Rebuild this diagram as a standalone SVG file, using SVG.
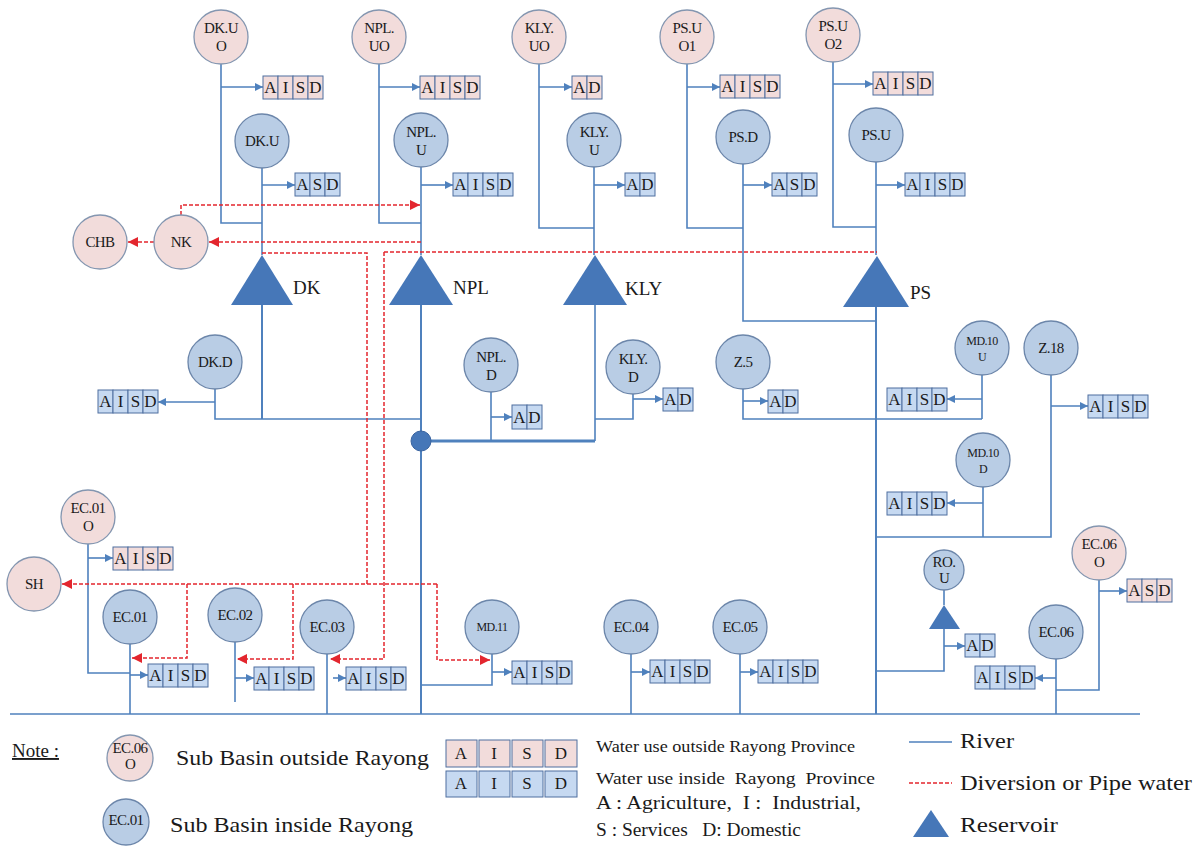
<svg xmlns="http://www.w3.org/2000/svg" width="1204" height="846" viewBox="0 0 1204 846" font-family="Liberation Serif, Times New Roman, serif">
<style>
.t{fill:#1a1a1a}
.ct{fill:#1a1a1a;font-size:15px;text-anchor:middle;letter-spacing:-0.6px}
.sm{font-size:12px}
.pk{fill:#f2dcdb;stroke:#8496b0;stroke-width:1.3}
.bl{fill:#b9cde5;stroke:#6c86aa;stroke-width:1.3}
.bx rect{stroke:#4f6f9f;stroke-width:1}
.p rect{fill:#f2dcdb}
.b rect{fill:#c6d9f1}
.bx text{font-size:17px;text-anchor:middle;fill:#1a1a1a}
.rv{stroke:#4f81bd;stroke-width:1.6;fill:none}
.tr{stroke:#4f81bd;stroke-width:2;fill:none}
.ar{stroke:#4f81bd;stroke-width:1.6;fill:none;marker-end:url(#ab)}
.dv{stroke:#e3262e;stroke-width:1.5;stroke-dasharray:4 2;fill:none}
.da{marker-end:url(#ar)}
.res{fill:#4677b8}
.lb{font-size:19px}
</style>
<defs>
<marker id="ab" viewBox="0 0 10 10" refX="10" refY="5" markerWidth="9" markerHeight="8" markerUnits="userSpaceOnUse" orient="auto"><path d="M0,0 L10,5 L0,10 z" fill="#4f81bd"/></marker>
<marker id="ar" viewBox="0 0 10 10" refX="10" refY="5" markerWidth="11" markerHeight="10" markerUnits="userSpaceOnUse" orient="auto"><path d="M0,0 L10,5 L0,10 z" fill="#e3262e"/></marker>
</defs>
<rect width="1204" height="846" fill="#ffffff"/>

<g id="connectors">
<path class="rv" d="M10,714 H1140"/>
<path class="rv" d="M221,64 V223 H262"/>
<path class="rv" d="M379,64 V223 H421"/>
<path class="rv" d="M539,64 V228 H594"/>
<path class="rv" d="M687,64 V228 H743"/>
<path class="rv" d="M833,62 V227 H876"/>
<path class="rv" d="M262,168 V255"/>
<path class="tr" d="M262,305 V419"/>
<path class="rv" d="M421,167 V255"/>
<path class="tr" d="M421,305 V714"/>
<path class="rv" d="M594,167 V255"/>
<path class="rv" d="M595,305 V441"/>
<path class="rv" d="M743,164 V321 H876"/>
<path class="rv" d="M876,162 V255"/>
<path class="tr" d="M876,307 V714"/>
<path class="rv" d="M215,389 V419 H421"/>
<path stroke="#4f81bd" stroke-width="3" fill="none" d="M421,441 H595"/>
<path class="rv" d="M491,392 V441"/>
<path class="rv" d="M633,394 V419 H595"/>
<path class="rv" d="M743,389 V419 H982"/>
<path class="rv" d="M982,375 V419"/>
<path class="rv" d="M1051,375 V537 H876"/>
<path class="rv" d="M983,487 V537"/>
<path class="rv" d="M944,590 V605"/>
<path class="rv" d="M944,629 V671 H876"/>
<path class="rv" d="M1099,580 V690 H1056"/>
<path class="rv" d="M1056,659 V714"/>
<path class="rv" d="M631,654 V714"/>
<path class="rv" d="M740,654 V714"/>
<path class="rv" d="M88,544 V673 H130"/>
<path class="rv" d="M130,644 V714"/>
<path class="rv" d="M235,642 V702"/>
<path class="rv" d="M327,654 V714"/>
<path class="rv" d="M492,654 V685 H421"/>
<path class="ar" d="M221,87 H263"/>
<path class="ar" d="M379,87 H420"/>
<path class="ar" d="M539,87 H572"/>
<path class="ar" d="M687,87 H720"/>
<path class="ar" d="M833,84 H873"/>
<path class="ar" d="M262,185 H295"/>
<path class="ar" d="M421,185 H453"/>
<path class="ar" d="M594,185 H625"/>
<path class="ar" d="M743,185 H772"/>
<path class="ar" d="M876,185 H905"/>
<path class="ar" d="M215,402 H158"/>
<path class="ar" d="M491,417 H512"/>
<path class="ar" d="M633,399 H663"/>
<path class="ar" d="M743,401 H768"/>
<path class="ar" d="M982,399 H947"/>
<path class="ar" d="M1051,406 H1088"/>
<path class="ar" d="M983,503 H947"/>
<path class="ar" d="M88,558 H113"/>
<path class="ar" d="M130,675 H148"/>
<path class="ar" d="M235,678 H254"/>
<path class="ar" d="M333,678 H346"/>
<path class="ar" d="M492,672 H512"/>
<path class="ar" d="M631,672 H650"/>
<path class="ar" d="M740,672 H758"/>
<path class="ar" d="M944,646 H965"/>
<path class="ar" d="M1099,591 H1127"/>
<path class="ar" d="M1056,678 H1035"/>
<path class="dv da" d="M181,215 V205 H420"/>
<path class="dv da" d="M421,242 H209"/>
<path class="dv da" d="M154,242 H128"/>
<path class="dv" d="M262,253 H367 V584"/>
<path class="dv" d="M384,252 H877"/>
<path class="dv da" d="M384,252 V659 H330"/>
<path class="dv da" d="M437,584 H62"/>
<path class="dv da" d="M187,584 V658 H132"/>
<path class="dv da" d="M293,584 V659 H237"/>
<path class="dv da" d="M437,584 V660 H490"/>
<circle cx="421" cy="441" r="10" fill="#4677b8" stroke="#3a64a0" stroke-width="1"/>
</g>

<g id="DK-res"><path class="res" d="M262,255 L231,305 L293,305 Z"/><text class="t lb" x="293" y="294">DK</text></g>
<g id="NPL-res"><path class="res" d="M421,255 L389,305 L453,305 Z"/><text class="t lb" x="453" y="294">NPL</text></g>
<g id="KLY-res"><path class="res" d="M595,255 L563,305 L627,305 Z"/><text class="t lb" x="625" y="295">KLY</text></g>
<g id="PS-res"><path class="res" d="M877,256 L843,307 L909,307 Z"/><text class="t lb" x="910" y="299">PS</text></g>
<g id="RO-res"><path class="res" d="M944,605 L929,629 L960,629 Z"/></g>

<g id="DK-UO"><circle class="pk" cx="221" cy="37" r="27"/><text class="ct" x="221" y="33">DK.U</text><text class="ct" x="221" y="51">O</text>
<g class="bx p" transform="translate(263,76)"><rect width="15" height="23"/><rect x="15" width="15" height="23"/><rect x="30" width="15" height="23"/><rect x="45" width="15" height="23"/><text x="7.5" y="17">A</text><text x="22.5" y="17">I</text><text x="37.5" y="17">S</text><text x="52.5" y="17">D</text></g></g>
<g id="NPL-UO"><circle class="pk" cx="379" cy="37" r="27"/><text class="ct" x="379" y="33">NPL.</text><text class="ct" x="379" y="51">UO</text>
<g class="bx p" transform="translate(420,76)"><rect width="15" height="23"/><rect x="15" width="15" height="23"/><rect x="30" width="15" height="23"/><rect x="45" width="15" height="23"/><text x="7.5" y="17">A</text><text x="22.5" y="17">I</text><text x="37.5" y="17">S</text><text x="52.5" y="17">D</text></g></g>
<g id="KLY-UO"><circle class="pk" cx="539" cy="37" r="27"/><text class="ct" x="539" y="33">KLY.</text><text class="ct" x="539" y="51">UO</text>
<g class="bx p" transform="translate(572,76)"><rect width="15" height="23"/><rect x="15" width="15" height="23"/><text x="7.5" y="17">A</text><text x="22.5" y="17">D</text></g></g>
<g id="PS-UO1"><circle class="pk" cx="687" cy="37" r="27"/><text class="ct" x="687" y="33">PS.U</text><text class="ct" x="687" y="51">O1</text>
<g class="bx p" transform="translate(720,75)"><rect width="15" height="23"/><rect x="15" width="15" height="23"/><rect x="30" width="15" height="23"/><rect x="45" width="15" height="23"/><text x="7.5" y="17">A</text><text x="22.5" y="17">I</text><text x="37.5" y="17">S</text><text x="52.5" y="17">D</text></g></g>
<g id="PS-UO2"><circle class="pk" cx="833" cy="35" r="27"/><text class="ct" x="833" y="31">PS.U</text><text class="ct" x="833" y="49">O2</text>
<g class="bx p" transform="translate(873,72)"><rect width="15" height="23"/><rect x="15" width="15" height="23"/><rect x="30" width="15" height="23"/><rect x="45" width="15" height="23"/><text x="7.5" y="17">A</text><text x="22.5" y="17">I</text><text x="37.5" y="17">S</text><text x="52.5" y="17">D</text></g></g>

<g id="DK-U"><circle class="bl" cx="262" cy="141" r="27"/><text class="ct" x="262" y="146">DK.U</text>
<g class="bx b" transform="translate(295,173)"><rect width="15" height="23"/><rect x="15" width="15" height="23"/><rect x="30" width="15" height="23"/><text x="7.5" y="17">A</text><text x="22.5" y="17">S</text><text x="37.5" y="17">D</text></g></g>
<g id="NPL-U"><circle class="bl" cx="421" cy="140" r="27"/><text class="ct" x="421" y="137">NPL.</text><text class="ct" x="421" y="155">U</text>
<g class="bx b" transform="translate(453,173)"><rect width="15" height="23"/><rect x="15" width="15" height="23"/><rect x="30" width="15" height="23"/><rect x="45" width="15" height="23"/><text x="7.5" y="17">A</text><text x="22.5" y="17">I</text><text x="37.5" y="17">S</text><text x="52.5" y="17">D</text></g></g>
<g id="KLY-U"><circle class="bl" cx="594" cy="140" r="27"/><text class="ct" x="594" y="137">KLY.</text><text class="ct" x="594" y="155">U</text>
<g class="bx b" transform="translate(625,173)"><rect width="15" height="23"/><rect x="15" width="15" height="23"/><text x="7.5" y="17">A</text><text x="22.5" y="17">D</text></g></g>
<g id="PS-D"><circle class="bl" cx="743" cy="137" r="27"/><text class="ct" x="743" y="142">PS.D</text>
<g class="bx b" transform="translate(772,173)"><rect width="15" height="23"/><rect x="15" width="15" height="23"/><rect x="30" width="15" height="23"/><text x="7.5" y="17">A</text><text x="22.5" y="17">S</text><text x="37.5" y="17">D</text></g></g>
<g id="PS-U"><circle class="bl" cx="876" cy="135" r="27"/><text class="ct" x="876" y="140">PS.U</text>
<g class="bx b" transform="translate(905,173)"><rect width="15" height="23"/><rect x="15" width="15" height="23"/><rect x="30" width="15" height="23"/><rect x="45" width="15" height="23"/><text x="7.5" y="17">A</text><text x="22.5" y="17">I</text><text x="37.5" y="17">S</text><text x="52.5" y="17">D</text></g></g>

<g id="NK"><circle class="pk" cx="181" cy="242" r="27"/><text class="ct" x="181" y="247">NK</text></g>
<g id="CHB"><circle class="pk" cx="100" cy="242" r="27"/><text class="ct" x="100" y="247">CHB</text></g>
<g id="SH"><circle class="pk" cx="34" cy="584" r="27"/><text class="ct" x="34" y="589">SH</text></g>

<g id="DK-D"><circle class="bl" cx="215" cy="362" r="27"/><text class="ct" x="215" y="367">DK.D</text>
<g class="bx b" transform="translate(98,390)"><rect width="15" height="23"/><rect x="15" width="15" height="23"/><rect x="30" width="15" height="23"/><rect x="45" width="15" height="23"/><text x="7.5" y="17">A</text><text x="22.5" y="17">I</text><text x="37.5" y="17">S</text><text x="52.5" y="17">D</text></g></g>
<g id="NPL-D"><circle class="bl" cx="491" cy="365" r="27"/><text class="ct" x="491" y="362">NPL.</text><text class="ct" x="491" y="380">D</text>
<g class="bx b" transform="translate(512,405)"><rect width="15" height="24"/><rect x="15" width="15" height="24"/><text x="7.5" y="18">A</text><text x="22.5" y="18">D</text></g></g>
<g id="KLY-D"><circle class="bl" cx="633" cy="367" r="27"/><text class="ct" x="633" y="364">KLY.</text><text class="ct" x="633" y="382">D</text>
<g class="bx b" transform="translate(663,388)"><rect width="15" height="23"/><rect x="15" width="15" height="23"/><text x="7.5" y="17">A</text><text x="22.5" y="17">D</text></g></g>
<g id="Z5"><circle class="bl" cx="743" cy="362" r="27"/><text class="ct" x="743" y="367">Z.5</text>
<g class="bx b" transform="translate(768,390)"><rect width="15" height="23"/><rect x="15" width="15" height="23"/><text x="7.5" y="17">A</text><text x="22.5" y="17">D</text></g></g>
<g id="MD10U"><circle class="bl" cx="982" cy="348" r="27"/><text class="ct sm" x="982" y="345">MD.10</text><text class="ct sm" x="982" y="361">U</text>
<g class="bx b" transform="translate(887,388)"><rect width="15" height="23"/><rect x="15" width="15" height="23"/><rect x="30" width="15" height="23"/><rect x="45" width="15" height="23"/><text x="7.5" y="17">A</text><text x="22.5" y="17">I</text><text x="37.5" y="17">S</text><text x="52.5" y="17">D</text></g></g>
<g id="Z18"><circle class="bl" cx="1051" cy="348" r="27"/><text class="ct" x="1051" y="353">Z.18</text>
<g class="bx b" transform="translate(1088,395)"><rect width="15" height="23"/><rect x="15" width="15" height="23"/><rect x="30" width="15" height="23"/><rect x="45" width="15" height="23"/><text x="7.5" y="17">A</text><text x="22.5" y="17">I</text><text x="37.5" y="17">S</text><text x="52.5" y="17">D</text></g></g>
<g id="MD10D"><circle class="bl" cx="983" cy="460" r="27"/><text class="ct sm" x="983" y="457">MD.10</text><text class="ct sm" x="983" y="473">D</text>
<g class="bx b" transform="translate(887,492)"><rect width="15" height="23"/><rect x="15" width="15" height="23"/><rect x="30" width="15" height="23"/><rect x="45" width="15" height="23"/><text x="7.5" y="17">A</text><text x="22.5" y="17">I</text><text x="37.5" y="17">S</text><text x="52.5" y="17">D</text></g></g>

<g id="EC01O"><circle class="pk" cx="88" cy="517" r="27"/><text class="ct" x="88" y="513">EC.01</text><text class="ct" x="88" y="531">O</text>
<g class="bx p" transform="translate(113,547)"><rect width="15" height="23"/><rect x="15" width="15" height="23"/><rect x="30" width="15" height="23"/><rect x="45" width="15" height="23"/><text x="7.5" y="17">A</text><text x="22.5" y="17">I</text><text x="37.5" y="17">S</text><text x="52.5" y="17">D</text></g></g>
<g id="EC01"><circle class="bl" cx="130" cy="617" r="27"/><text class="ct" x="130" y="622">EC.01</text>
<g class="bx b" transform="translate(148,664)"><rect width="15" height="23"/><rect x="15" width="15" height="23"/><rect x="30" width="15" height="23"/><rect x="45" width="15" height="23"/><text x="7.5" y="17">A</text><text x="22.5" y="17">I</text><text x="37.5" y="17">S</text><text x="52.5" y="17">D</text></g></g>
<g id="EC02"><circle class="bl" cx="235" cy="615" r="27"/><text class="ct" x="235" y="620">EC.02</text>
<g class="bx b" transform="translate(254,667)"><rect width="15" height="23"/><rect x="15" width="15" height="23"/><rect x="30" width="15" height="23"/><rect x="45" width="15" height="23"/><text x="7.5" y="17">A</text><text x="22.5" y="17">I</text><text x="37.5" y="17">S</text><text x="52.5" y="17">D</text></g></g>
<g id="EC03"><circle class="bl" cx="327" cy="627" r="27"/><text class="ct" x="327" y="632">EC.03</text>
<g class="bx b" transform="translate(346,667)"><rect width="15" height="23"/><rect x="15" width="15" height="23"/><rect x="30" width="15" height="23"/><rect x="45" width="15" height="23"/><text x="7.5" y="17">A</text><text x="22.5" y="17">I</text><text x="37.5" y="17">S</text><text x="52.5" y="17">D</text></g></g>
<g id="MD11"><circle class="bl" cx="492" cy="627" r="27"/><text class="ct sm" x="492" y="631">MD.11</text>
<g class="bx b" transform="translate(512,661)"><rect width="15" height="23"/><rect x="15" width="15" height="23"/><rect x="30" width="15" height="23"/><rect x="45" width="15" height="23"/><text x="7.5" y="17">A</text><text x="22.5" y="17">I</text><text x="37.5" y="17">S</text><text x="52.5" y="17">D</text></g></g>
<g id="EC04"><circle class="bl" cx="631" cy="627" r="27"/><text class="ct" x="631" y="632">EC.04</text>
<g class="bx b" transform="translate(650,660)"><rect width="15" height="23"/><rect x="15" width="15" height="23"/><rect x="30" width="15" height="23"/><rect x="45" width="15" height="23"/><text x="7.5" y="17">A</text><text x="22.5" y="17">I</text><text x="37.5" y="17">S</text><text x="52.5" y="17">D</text></g></g>
<g id="EC05"><circle class="bl" cx="740" cy="627" r="27"/><text class="ct" x="740" y="632">EC.05</text>
<g class="bx b" transform="translate(758,660)"><rect width="15" height="23"/><rect x="15" width="15" height="23"/><rect x="30" width="15" height="23"/><rect x="45" width="15" height="23"/><text x="7.5" y="17">A</text><text x="22.5" y="17">I</text><text x="37.5" y="17">S</text><text x="52.5" y="17">D</text></g></g>
<g id="ROU"><circle class="bl" cx="944" cy="570" r="20"/><text class="ct" x="944" y="567">RO.</text><text class="ct" x="944" y="583">U</text>
<g class="bx b" transform="translate(965,634)"><rect width="15" height="23"/><rect x="15" width="15" height="23"/><text x="7.5" y="17">A</text><text x="22.5" y="17">D</text></g></g>
<g id="EC06O"><circle class="pk" cx="1099" cy="553" r="27"/><text class="ct" x="1099" y="549">EC.06</text><text class="ct" x="1099" y="567">O</text>
<g class="bx p" transform="translate(1127,579)"><rect width="15" height="23"/><rect x="15" width="15" height="23"/><rect x="30" width="15" height="23"/><text x="7.5" y="17">A</text><text x="22.5" y="17">S</text><text x="37.5" y="17">D</text></g></g>
<g id="EC06"><circle class="bl" cx="1056" cy="632" r="27"/><text class="ct" x="1056" y="637">EC.06</text>
<g class="bx b" transform="translate(975,666)"><rect width="15" height="23"/><rect x="15" width="15" height="23"/><rect x="30" width="15" height="23"/><rect x="45" width="15" height="23"/><text x="7.5" y="17">A</text><text x="22.5" y="17">I</text><text x="37.5" y="17">S</text><text x="52.5" y="17">D</text></g></g>

<g id="legend">
<text class="t" x="12" y="757" font-size="19" text-decoration="underline">Note :</text>
<circle class="pk" cx="130" cy="758" r="23"/><text class="ct" x="130" y="753" font-size="10">EC.06</text><text class="ct" x="130" y="769" font-size="10">O</text>
<text class="t" x="176" y="765" font-size="22" textLength="253" lengthAdjust="spacingAndGlyphs">Sub Basin outside Rayong</text>
<circle class="bl" cx="126" cy="822" r="23"/><text class="ct" x="126" y="825" font-size="9">EC.01</text>
<text class="t" x="170" y="832" font-size="22" textLength="243" lengthAdjust="spacingAndGlyphs">Sub Basin inside Rayong</text>
<g class="bx p"><rect x="446" y="740" width="31" height="27"/><rect x="479" y="740" width="31" height="27"/><rect x="512" y="740" width="31" height="27"/><rect x="545" y="740" width="32" height="27"/>
<text x="461" y="759" font-size="15">A</text><text x="494" y="759" font-size="15">I</text><text x="527" y="759" font-size="15">S</text><text x="561" y="759" font-size="15">D</text></g>
<g class="bx b"><rect x="446" y="771" width="31" height="26"/><rect x="479" y="771" width="31" height="26"/><rect x="512" y="771" width="31" height="26"/><rect x="545" y="771" width="32" height="26"/>
<text x="461" y="789" font-size="15">A</text><text x="494" y="789" font-size="15">I</text><text x="527" y="789" font-size="15">S</text><text x="561" y="789" font-size="15">D</text></g>
<text class="t" x="596" y="752" font-size="16" textLength="259" lengthAdjust="spacingAndGlyphs">Water use outside Rayong Province</text>
<text class="t" x="596" y="784" font-size="17" xml:space="preserve" textLength="279" lengthAdjust="spacingAndGlyphs">Water use inside  Rayong  Province</text>
<text class="t" x="596" y="809" font-size="18" xml:space="preserve" textLength="265" lengthAdjust="spacingAndGlyphs">A : Agriculture,  I :  Industrial,</text>
<text class="t" x="596" y="836" font-size="18" xml:space="preserve" textLength="205" lengthAdjust="spacingAndGlyphs">S : Services   D: Domestic</text>
<path class="rv" d="M909,742 H952"/>
<text class="t" x="960" y="748" font-size="21" textLength="54" lengthAdjust="spacingAndGlyphs">River</text>
<path class="dv" stroke-width="1.2" stroke-dasharray="3 1.5" d="M909,783 H952"/>
<text class="t" x="960" y="790" font-size="21" textLength="232" lengthAdjust="spacingAndGlyphs">Diversion or Pipe water</text>
<path class="res" d="M931,810 L913,837 L949,837 Z"/>
<text class="t" x="960" y="832" font-size="21" textLength="98" lengthAdjust="spacingAndGlyphs">Reservoir</text>
</g>
</svg>
